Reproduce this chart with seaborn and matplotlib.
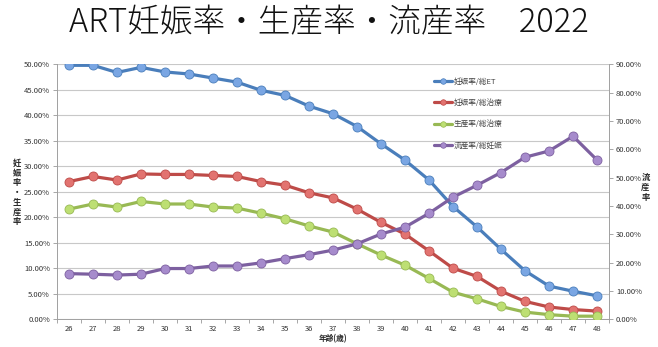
import matplotlib
matplotlib.use("Agg")
import matplotlib.pyplot as plt
import seaborn as sns
import pandas as pd
import numpy as np
from matplotlib.ticker import PercentFormatter, FixedLocator
from matplotlib.lines import Line2D

ages = list(range(26, 49))
preg_et = [49.8, 49.8, 48.4, 49.4, 48.5, 48.1, 47.3, 46.5, 44.9, 43.9, 41.8, 40.3,
           37.8, 34.4, 31.2, 27.3, 22.1, 18.1, 13.7, 9.5, 6.5, 5.5, 4.6]
preg_tr = [27.0, 28.0, 27.3, 28.5, 28.4, 28.4, 28.2, 28.0, 27.0, 26.3, 24.8, 23.8,
           21.6, 19.0, 16.7, 13.4, 10.0, 8.4, 5.5, 3.5, 2.4, 1.9, 1.6]
birth_tr = [21.6, 22.6, 22.0, 23.1, 22.6, 22.6, 22.0, 21.8, 20.8, 19.7, 18.3, 17.1,
            14.8, 12.6, 10.6, 8.0, 5.3, 4.0, 2.5, 1.4, 0.9, 0.6, 0.6]
misc_preg = [16.1, 15.9, 15.6, 15.9, 17.9, 17.9, 18.8, 18.8, 19.9, 21.4, 22.8, 24.4,
             26.6, 30.1, 32.5, 37.4, 43.1, 47.3, 51.8, 57.2, 59.4, 64.6, 56.2]

names = ["妊娠率/総ET", "妊娠率/総治療", "生産率/総治療", "流産率/総妊娠"]
line_colors = ["#4a7ebb", "#be4b48", "#98b954", "#7d60a0"]
face_colors = ["#7aa6e3", "#e27370", "#bddf73", "#a68bcc"]

sns.set_theme(style="white")
plt.rcParams["font.family"] = ["Noto Sans CJK JP", "DejaVu Sans"]

fig = plt.figure(figsize=(6.58, 3.47), dpi=100)
ax = fig.add_axes([0.0866, 0.080, 0.839, 0.7347])
ax2 = ax.twinx()

df = pd.DataFrame({"age": ages, names[0]: preg_et, names[1]: preg_tr,
                   names[2]: birth_tr, names[3]: misc_preg})

handles = []
for i, name in enumerate(names):
    target = ax if i < 3 else ax2
    sns.lineplot(data=df, x="age", y=name, ax=target, color=line_colors[i],
                 linewidth=2.3, marker="o", markersize=6.5,
                 markerfacecolor=face_colors[i], markeredgecolor=line_colors[i],
                 markeredgewidth=0.6, zorder=3)
    handles.append(Line2D([], [], color=line_colors[i], linewidth=2.3, marker="o",
                          markersize=4, markerfacecolor=face_colors[i],
                          markeredgecolor=line_colors[i], markeredgewidth=0.5))

ax.set_ylim(0, 50)
ax2.set_ylim(0, 90)
ax.set_xlim(25.5, 48.5)
ax.set_yticks(np.arange(0, 50.1, 5))
ax2.set_yticks(np.arange(0, 90.1, 10))
ax.yaxis.set_major_formatter(PercentFormatter(decimals=2))
ax2.yaxis.set_major_formatter(PercentFormatter(decimals=2))
ax.set_xticks(ages)
ax.set_xticklabels([str(a) for a in ages])
ax.xaxis.set_minor_locator(FixedLocator(np.arange(25.5, 48.6, 1)))
ax.tick_params(axis="x", which="major", length=0, labelsize=5.5, pad=4, colors="#333333")
ax.tick_params(axis="x", which="minor", length=3, width=0.6, color="#999999", bottom=True)
ax.tick_params(axis="y", length=3, width=0.6, labelsize=5.5, color="#999999",
               labelcolor="#333333", left=True, pad=2)
ax2.tick_params(axis="y", length=3, width=0.6, labelsize=5.5, color="#999999",
                labelcolor="#333333", right=True, pad=2)

ax.grid(axis="y", color="#c8c8c8", linewidth=0.8)
ax.set_axisbelow(True)
for a in (ax, ax2):
    for s in a.spines.values():
        s.set_visible(False)
ax.spines["left"].set_visible(True)
ax.spines["left"].set_color("#a0a0a0")
ax.spines["left"].set_linewidth(0.7)
ax.spines["bottom"].set_visible(True)
ax.spines["bottom"].set_color("#a0a0a0")
ax.spines["bottom"].set_linewidth(0.7)
ax2.spines["right"].set_visible(True)
ax2.spines["right"].set_color("#a0a0a0")
ax2.spines["right"].set_linewidth(0.7)

ax.set_xlabel("年齢(歳)", fontsize=5.5, fontweight="bold", labelpad=1)
ax.set_ylabel("")
ax2.set_ylabel("")
fig.text(0.026, 0.445, "\n".join("妊娠率・生産率"), fontsize=6, fontweight="bold",
         ha="center", va="center", linespacing=1.1)
fig.text(0.981, 0.46, "\n".join("流産率"), fontsize=6, fontweight="bold",
         ha="center", va="center", linespacing=1.1)

leg = ax2.legend(handles, names, loc="upper left", bbox_to_anchor=(0.67, 0.975),
                 frameon=False, fontsize=5.5, labelspacing=1.75, handlelength=2.4,
                 handletextpad=0.2)
for t in leg.get_texts():
    t.set_color("#444444")

fig.text(0.5, 0.935, "ART妊娠率・生産率・流産率　2022", fontsize=23.5, ha="center",
         va="center", color="#111111", fontweight="light")

fig.savefig("out.png", dpi=100)
